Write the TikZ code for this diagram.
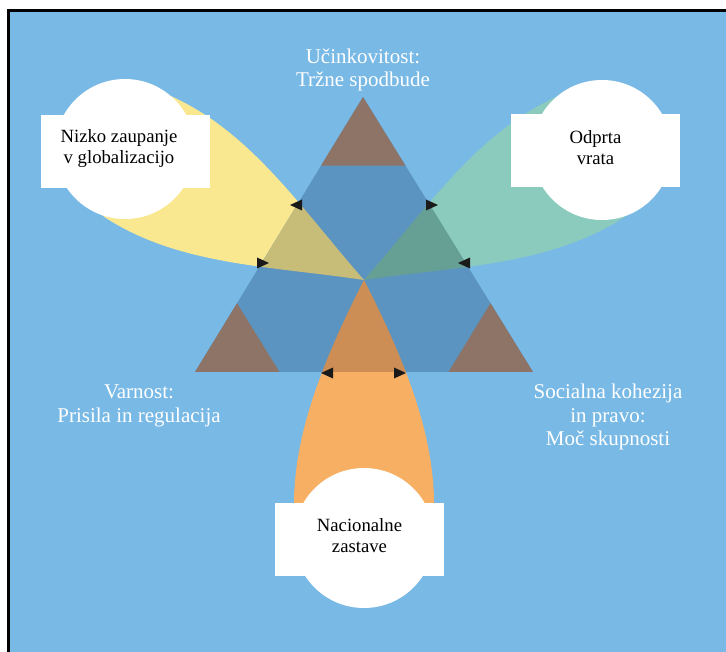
\documentclass[tikz,border=0pt]{standalone}
\usepackage{fontspec}
\setmainfont{Liberation Serif}
\usetikzlibrary{calc}
\definecolor{bgblue}{HTML}{79B9E5}
\definecolor{triblue}{HTML}{5B94C0}
\definecolor{cornerbrown}{HTML}{8D7467}
\definecolor{pyellow}{HTML}{F9E890}
\definecolor{pyellowd}{HTML}{C8BC79}
\definecolor{pgreen}{HTML}{8BCBBE}
\definecolor{pgreend}{HTML}{66A095}
\definecolor{porange}{HTML}{F6AF63}
\definecolor{porangedk}{HTML}{CC8E55}
\definecolor{arrowblack}{HTML}{1A1A1A}
% petal: #1 rotation, #2 fill colour, #3 near-tip half width control, #4 length
\newcommand{\mypetal}[4]{%
  \begin{scope}[shift={(364,280)},rotate=#1]
    \fill[#2] (0,0) .. controls (-#3,90) and (-76,170) .. (-69,#4-12)
      .. controls (-60,#4+40) and (60,#4+40) .. (69,#4-12)
      .. controls (76,170) and (#3,90) .. (0,0) -- cycle;
  \end{scope}}
\newcommand{\arrowleft}[2]{\fill[arrowblack] (#1-6,#2) -- (#1+6,#2-5.5) -- (#1+6,#2+5.5) -- cycle;}
\newcommand{\arrowright}[2]{\fill[arrowblack] (#1+6,#2) -- (#1-6,#2-5.5) -- (#1-6,#2+5.5) -- cycle;}
\begin{document}
\begin{tikzpicture}[x=1pt,y=-1pt,
  wcircle/.style={circle,fill=white,inner sep=0pt,minimum size=140pt},
  wbox/.style={rectangle,fill=white,inner sep=0pt,minimum width=169pt,minimum height=73pt},
  boxtxt/.style={align=center,inner sep=0pt,text=black,font=\fontsize{18.7pt}{21pt}\selectfont},
  lbl/.style={align=center,inner sep=0pt,text=white,font=\fontsize{21pt}{23.5pt}\selectfont}]
\useasboundingbox (0,0) rectangle (726,652);
\clip (0,0) rectangle (726,652);
\fill[white] (0,0) rectangle (726,652);
\draw[line width=3pt,fill=bgblue] (8.5,10.5) rectangle (740,670);

\coordinate (A) at (363,97);
\coordinate (BL) at (195,372);
\coordinate (BR) at (533,372);

% petals
\mypetal{241.4}{pyellow}{33}{270}
\mypetal{118.5}{pgreen}{33}{271}
\mypetal{0}{porange}{46}{259}

% main triangle
\fill[triblue] (A) -- (BL) -- (BR) -- cycle;

% overlaps
\begin{scope}
  \clip (A) -- (BL) -- (BR) -- cycle;
  \mypetal{241.4}{pyellowd}{33}{270}
  \mypetal{118.5}{pgreend}{33}{271}
  \mypetal{0}{porangedk}{46}{259}
\end{scope}

% corner triangles
\fill[cornerbrown] (A) -- ($(A)!0.25!(BL)$) -- ($(A)!0.25!(BR)$) -- cycle;
\fill[cornerbrown] (BL) -- ($(BL)!0.25!(A)$) -- ($(BL)!0.25!(BR)$) -- cycle;
\fill[cornerbrown] (BR) -- ($(BR)!0.25!(A)$) -- ($(BR)!0.25!(BL)$) -- cycle;

% arrowheads
\arrowleft{296}{205}
\arrowright{263}{263}
\arrowright{432}{205}
\arrowleft{464}{263}
\arrowleft{327}{373}
\arrowright{400}{373}

% white circles
\node[wcircle] (cl) at (125,149) {};
\node[wcircle] (cr) at (602,150) {};
\node[wcircle] (cb) at (364,538) {};

% boxes
\node[wbox] (bl) at (125.5,151.5) {};
\node[boxtxt] (blt) at (119,149) {Nizko zaupanje\\v globalizacijo};
\node[wbox] (br) at (595.5,151) {};
\node[boxtxt] (brt) at (595.5,148) {Odprta\\vrata};
\node[wbox] (bb) at (359.5,539) {};
\node[boxtxt] (bbt) at (359.5,536) {Nacionalne\\zastave};

% labels
\node[lbl] (lt) at (363,70) {Učinkovitost:\\Tržne spodbude};
\node[lbl] (lv) at (139,406) {Varnost:\\Prisila in regulacija};
\node[lbl] (ls) at (608,417) {Socialna kohezija\\in pravo:\\Moč skupnosti};
\end{tikzpicture}
\end{document}
